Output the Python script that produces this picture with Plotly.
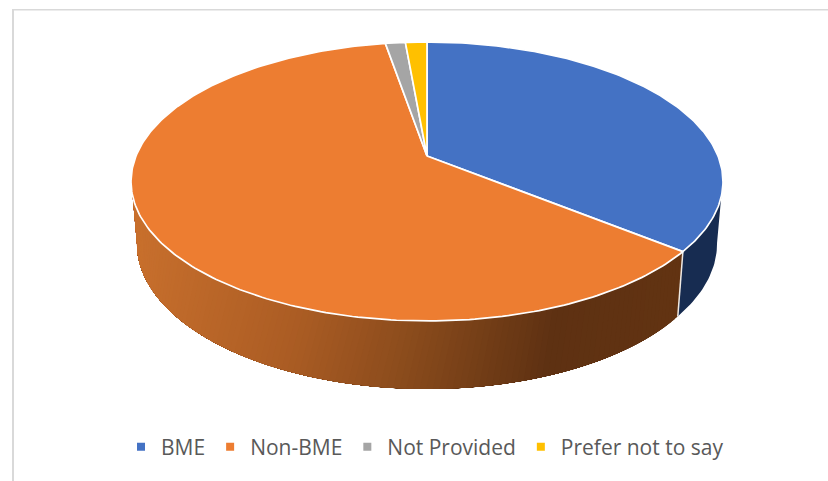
import math
import numpy as np
import plotly.graph_objects as go

categories = ["BME", "Non-BME", "Not Provided", "Prefer not to say"]
values = [35.8, 61.5, 1.3, 1.4]
top_colors = ["#4472C4", "#ED7D31", "#A5A5A5", "#FFC000"]
legend_text = "#595959"

CX, CY0, RX = 427.0, 156.0, 291.0
PA, PC = -106.3, 0.1828
BOTTOM_SCALE = 0.98


def project(theta):
    u, v = np.sin(theta), np.cos(theta)
    w = PC * v + 1
    return CX + RX * u / w, (PA * v + CY0) / w


def project_bottom(theta):
    x, y = project(theta)
    return CX + (x - CX) * BOTTOM_SCALE, y + 62 + (y - 181) * 6 / 140


def lerp(c1, c2, t):
    a = [int(c1[i:i + 2], 16) for i in (1, 3, 5)]
    b = [int(c2[i:i + 2], 16) for i in (1, 3, 5)]
    return "#%02x%02x%02x" % tuple(round(p + (q - p) * t) for p, q in zip(a, b))


total = sum(values)
angles = np.cumsum([0] + values) / total * 2 * math.pi
seam = angles[1]
fig = go.Figure()

TOP_SIL, BOT_SIL = 1.86, 1.75  # where the wall's outline leaves each rim

# BME side wall
th_t = np.linspace(TOP_SIL, seam, 30)
th_b = np.linspace(seam, BOT_SIL, 30)
x1, y1 = project(th_t)
x2, y2 = project_bottom(th_b)
fig.add_trace(go.Scatter(x=np.r_[x1, x2], y=np.r_[y1, y2], fill="toself", fillcolor="#172C51",
                         mode="lines", line=dict(width=0), hoverinfo="skip", showlegend=False))

# Non-BME side wall: overlapping layers give a seamless horizontal gradient
stops = [(131, "#C9702D"), (300, "#AC5D24"), (420, "#8A4B1C"), (560, "#5E3112"), (681, "#623312")]
top_end = 2 * math.pi - TOP_SIL
bot_end = 2 * math.pi - BOT_SIL
for t in np.linspace(0, 1, 120, endpoint=False):
    a_t = seam + t * (top_end - seam)
    a_b = seam + t * (bot_end - seam)
    x1, y1 = project(np.linspace(a_t, top_end, 60))
    x2, y2 = project_bottom(np.linspace(bot_end, a_b, 60))
    xm = float(x1[0])
    col = stops[-1][1]
    for (p, c), (q, d) in zip(stops[:-1], stops[1:]):
        if p <= xm <= q:
            col = lerp(c, d, (xm - p) / (q - p))
    fig.add_trace(go.Scatter(x=np.r_[x1, x2], y=np.r_[y1, y2], fill="toself", fillcolor=col,
                             mode="lines", line=dict(width=0),
                             hoverinfo="skip", showlegend=False))

# pale seam between the two side walls
x0, y0 = project(np.array([seam]))
x3, y3 = project_bottom(np.array([seam]))
fig.add_trace(go.Scatter(x=[x0[0], x3[0]], y=[y0[0], y3[0]], mode="lines",
                         line=dict(color="#EFE9E3", width=1.5), hoverinfo="skip", showlegend=False))

# top face
for i, name in enumerate(categories):
    th = np.linspace(angles[i], angles[i + 1], max(8, int(values[i] * 4)))
    x, y = project(th)
    fig.add_trace(go.Scatter(x=np.r_[CX, x, CX], y=np.r_[CY0, y, CY0], fill="toself",
                             fillcolor=top_colors[i], mode="lines",
                             line=dict(color="white", width=1.7),
                             hoverinfo="skip", showlegend=False))

# legend entries
for i, name in enumerate(categories):
    fig.add_trace(go.Scatter(x=[None], y=[None], mode="markers", name=name,
                             marker=dict(symbol="square", size=8, color=top_colors[i])))

fig.update_layout(
    width=828, height=481, margin=dict(l=0, r=0, t=0, b=0),
    paper_bgcolor="white", plot_bgcolor="white",
    xaxis=dict(range=[0, 828], visible=False, fixedrange=True),
    yaxis=dict(range=[481, 0], visible=False, fixedrange=True),
    legend=dict(orientation="h", x=425 / 828, xanchor="center", y=1 - 447 / 481, yanchor="middle",
                font=dict(family="Open Sans", size=21, color=legend_text), itemwidth=30,
                bgcolor="rgba(0,0,0,0)"),
    shapes=[
        dict(type="line", xref="paper", yref="paper", x0=13 / 828, x1=13 / 828, y0=1 - 9 / 481, y1=0,
             line=dict(color="#D9D9D9", width=2)),
        dict(type="line", xref="paper", yref="paper", x0=12 / 828, x1=1, y0=1 - 9.7 / 481, y1=1 - 9.7 / 481,
             line=dict(color="#D9D9D9", width=1.5)),
    ],
)
fig.write_html("out.html", post_script="document.body.style.margin='0';",
               config={"displayModeBar": False})
